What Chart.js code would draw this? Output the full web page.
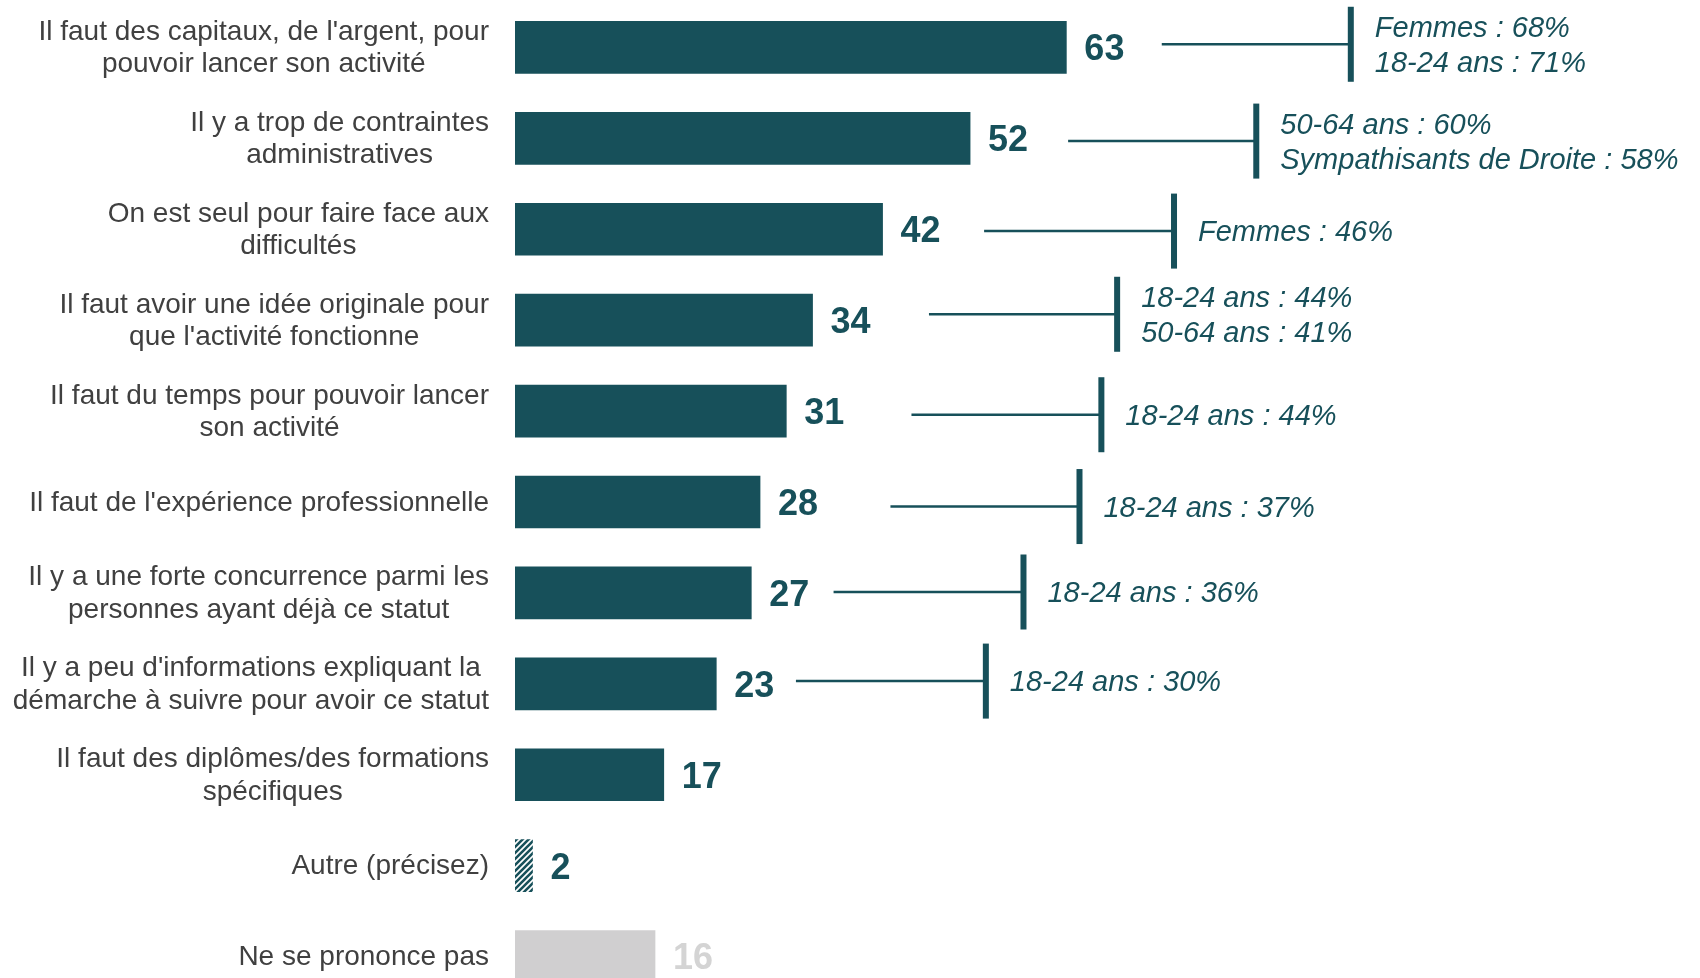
<!DOCTYPE html>
<html>
<head>
<meta charset="utf-8">
<script src="https://cdn.jsdelivr.net/npm/chart.js@4.4.1/dist/chart.umd.min.js"></script>
<style>
  html, body { margin: 0; padding: 0; background: #ffffff; overflow: hidden; }
  #wrap { position: relative; width: 1700px; height: 1002px; }
</style>
</head>
<body>
<div id="wrap"><canvas id="c"></canvas></div>
<script>
// ---- Data ----
const categories = [
  ["Il faut des capitaux, de l'argent, pour", "pouvoir lancer son activité"],
  ["Il y a trop de contraintes", "administratives"],
  ["On est seul pour faire face aux", "difficultés"],
  ["Il faut avoir une idée originale pour", "que l'activité fonctionne"],
  ["Il faut du temps pour pouvoir lancer", "son activité"],
  ["Il faut de l'expérience professionnelle"],
  ["Il y a une forte concurrence parmi les", "personnes ayant déjà ce statut"],
  ["Il y a peu d'informations expliquant la", "démarche à suivre pour avoir ce statut"],
  ["Il faut des diplômes/des formations", "spécifiques"],
  ["Autre (précisez)"],
  ["Ne se prononce pas"]
];
const values = [63, 52, 42, 34, 31, 28, 27, 23, 17, 2, 16];

const calloutTexts = [
  ["Femmes : 68%", "18-24 ans : 71%"],
  ["50-64 ans : 60%", "Sympathisants de Droite : 58%"],
  ["Femmes : 46%"],
  ["18-24 ans : 44%", "50-64 ans : 41%"],
  ["18-24 ans : 44%"],
  ["18-24 ans : 37%"],
  ["18-24 ans : 36%"],
  ["18-24 ans : 30%"]
];
// callout connector start / end, in axis units
const calloutFrom = [73.9, 63.2, 53.6, 47.3, 45.3, 42.9, 36.4, 32.1];
const calloutTo   = [95.5, 84.7, 75.3, 68.8, 67.0, 64.5, 58.1, 53.8];
// callout vertical shift, in category units
const calloutShift = [-0.035, 0.03, 0.02, -0.065, 0.04, 0.05, -0.01, -0.03];

const xMax = 135.4;
const OTHER = "Autre (précisez)";
const NSP = "Ne se prononce pas";

// ---- Styles ----
const TEAL = '#17505a';
const GREY_BAR = '#d0cfd0';
const GREY_VAL = '#d4d4d4';
const LABEL_COL = '#404040';
const FONT = '"Liberation Sans", Arial, sans-serif';

function hatch() {
  const s = 6;
  const c = document.createElement('canvas');
  c.width = s; c.height = s;
  const g = c.getContext('2d');
  g.fillStyle = '#ffffff';
  g.fillRect(0, 0, s, s);
  g.strokeStyle = TEAL;
  g.lineWidth = 2.6;
  g.beginPath();
  g.moveTo(-1, s + 1); g.lineTo(s + 1, -1);
  g.moveTo(-1 - s, s + 1); g.lineTo(1, -1);
  g.moveTo(s - 1, s + 1); g.lineTo(s + 1 + s, -1);
  g.stroke();
  return g.createPattern(c, 'repeat');
}
const hatchPattern = hatch();

function catName(i) { return categories[i].join(' '); }

const labelsPlugin = {
  id: 'customLabels',
  afterDatasetsDraw(chart) {
    const ctx = chart.ctx;
    const xs = chart.scales.x, ys = chart.scales.y;
    const meta = chart.getDatasetMeta(0);
    ctx.save();
    // category labels: right-aligned blocks, centered lines
    ctx.font = '28px ' + FONT;
    ctx.fillStyle = LABEL_COL;
    ctx.textBaseline = 'middle';
    ctx.textAlign = 'center';
    const rightEdge = chart.chartArea.left - 26;
    const lh = 32.5;
    categories.forEach((lines, i) => {
      const y = ys.getPixelForValue(i);
      const widest = Math.max(...lines.map(l => ctx.measureText(l).width));
      const cx = rightEdge - widest / 2;
      lines.forEach((l, j) => {
        ctx.fillText(l, cx, y + 1 + (j - (lines.length - 1) / 2) * lh);
      });
    });
    // value labels
    ctx.font = 'bold 36px ' + FONT;
    ctx.textAlign = 'left';
    meta.data.forEach((bar, i) => {
      ctx.fillStyle = catName(i) === NSP ? GREY_VAL : TEAL;
      ctx.fillText(String(values[i]), bar.x + 18, bar.y + 3);
    });
    // callouts
    ctx.strokeStyle = TEAL;
    ctx.fillStyle = TEAL;
    ctx.font = 'italic 29px ' + FONT;
    calloutTexts.forEach((lines, i) => {
      const y = ys.getPixelForValue(i + calloutShift[i]);
      const x0 = xs.getPixelForValue(calloutFrom[i]);
      const x1 = xs.getPixelForValue(calloutTo[i]);
      ctx.lineWidth = 2.5;
      ctx.beginPath();
      ctx.moveTo(x0, y);
      ctx.lineTo(x1, y);
      ctx.stroke();
      ctx.fillRect(x1 - 3, y - 37.5, 6, 75);
      lines.forEach((l, j) => {
        ctx.fillText(l, x1 + 24, y + 2 + (j - (lines.length - 1) / 2) * 35);
      });
    });
    ctx.restore();
  }
};

new Chart(document.getElementById('c'), {
  type: 'bar',
  data: {
    labels: categories.map(c => c.join(' ')),
    datasets: [{
      data: values,
      backgroundColor: (c) => {
        const n = catName(c.dataIndex);
        if (n === OTHER) return hatchPattern;
        if (n === NSP) return GREY_BAR;
        return TEAL;
      },
      borderWidth: 0,
      barThickness: 52
    }]
  },
  options: {
    indexAxis: 'y',
    responsive: true,
    maintainAspectRatio: false,
    animation: false,
    layout: { padding: { left: 515, top: 2, right: 0, bottom: 0 } },
    plugins: { legend: { display: false }, tooltip: { enabled: false } },
    scales: {
      x: { display: false, min: 0, max: xMax },
      y: { display: false }
    }
  },
  plugins: [labelsPlugin]
});
</script>
</body>
</html>
